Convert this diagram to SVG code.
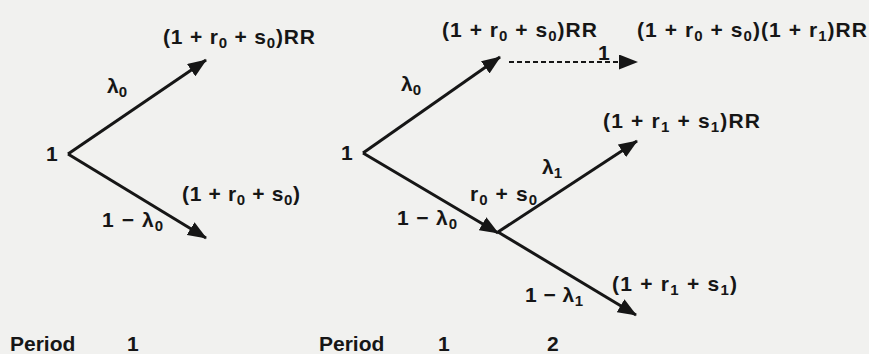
<svg xmlns="http://www.w3.org/2000/svg" width="869" height="354" viewBox="0 0 869 354">
<style>
text{font-family:"Liberation Sans",Arial,Helvetica,sans-serif;font-weight:bold;font-size:21px;fill:#161616}
.s{font-size:15px}
.ln{stroke:#161616;stroke-width:3;fill:none}
.dash{stroke:#161616;stroke-width:2.2;stroke-dasharray:5,3;fill:none}
</style>
<defs>
<marker id="ah" viewBox="0 0 19 15" markerUnits="userSpaceOnUse" markerWidth="19" markerHeight="15" refX="18" refY="7.5" orient="auto">
<path d="M0,0 L19,7.5 L0,15 z" fill="#161616"/>
</marker>
</defs>
<rect width="869" height="354" fill="#f1f1ef"/>
<g id="connectors">
<line class="ln" x1="68" y1="154" x2="206" y2="60" marker-end="url(#ah)"/>
<line class="ln" x1="68" y1="154" x2="206" y2="238" marker-end="url(#ah)"/>
<line class="ln" x1="363" y1="153" x2="500" y2="57" marker-end="url(#ah)"/>
<line class="ln" x1="363" y1="153" x2="498" y2="233" marker-end="url(#ah)"/>
<line class="dash" x1="509" y1="62" x2="637" y2="62" marker-end="url(#ah)"/>
<line class="ln" x1="498" y1="232" x2="637" y2="141" marker-end="url(#ah)"/>
<line class="ln" x1="498" y1="232" x2="636" y2="315" marker-end="url(#ah)"/>
<text x="107" y="93">λ<tspan class="s" dy="4">0</tspan></text>
<text x="102" y="227" textLength="61" lengthAdjust="spacing">1 − λ<tspan class="s" dy="4">0</tspan></text>
<text x="401" y="91">λ<tspan class="s" dy="4">0</tspan></text>
<text x="397" y="225" textLength="60" lengthAdjust="spacing">1 − λ<tspan class="s" dy="4">0</tspan></text>
<text x="598" y="60">1</text>
<text x="542" y="174">λ<tspan class="s" dy="4">1</tspan></text>
<text x="470" y="201" textLength="67" lengthAdjust="spacing">r<tspan class="s" dy="4">0</tspan><tspan dy="-4"> + s</tspan><tspan class="s" dy="4">0</tspan></text>
<text x="525" y="302" textLength="58" lengthAdjust="spacing">1 − λ<tspan class="s" dy="4">1</tspan></text>
</g>
<g id="left-root"><text x="46" y="161">1</text></g>
<g id="left-up"><text x="163" y="44" textLength="152" lengthAdjust="spacing">(1 + r<tspan class="s" dy="4">0</tspan><tspan dy="-4"> + s</tspan><tspan class="s" dy="4">0</tspan><tspan dy="-4">)RR</tspan></text></g>
<g id="left-down"><text x="182" y="201" textLength="118" lengthAdjust="spacing">(1 + r<tspan class="s" dy="4">0</tspan><tspan dy="-4"> + s</tspan><tspan class="s" dy="4">0</tspan><tspan dy="-4">)</tspan></text></g>
<g id="right-root"><text x="341" y="160">1</text></g>
<g id="right-up"><text x="442" y="37" textLength="155" lengthAdjust="spacing">(1 + r<tspan class="s" dy="4">0</tspan><tspan dy="-4"> + s</tspan><tspan class="s" dy="4">0</tspan><tspan dy="-4">)RR</tspan></text></g>
<g id="right-up-next"><text x="637" y="37" textLength="230" lengthAdjust="spacing">(1 + r<tspan class="s" dy="4">0</tspan><tspan dy="-4"> + s</tspan><tspan class="s" dy="4">0</tspan><tspan dy="-4">)(1 + r</tspan><tspan class="s" dy="4">1</tspan><tspan dy="-4">)RR</tspan></text></g>
<g id="right-mid"><text x="603" y="128" textLength="157" lengthAdjust="spacing">(1 + r<tspan class="s" dy="4">1</tspan><tspan dy="-4"> + s</tspan><tspan class="s" dy="4">1</tspan><tspan dy="-4">)RR</tspan></text></g>
<g id="right-down"><text x="612" y="291" textLength="125" lengthAdjust="spacing">(1 + r<tspan class="s" dy="4">1</tspan><tspan dy="-4"> + s</tspan><tspan class="s" dy="4">1</tspan><tspan dy="-4">)</tspan></text></g>
<g id="periods">
<text x="10" y="351">Period</text>
<text x="127" y="351">1</text>
<text x="319" y="351">Period</text>
<text x="438" y="351">1</text>
<text x="547" y="351">2</text>
</g>
</svg>
